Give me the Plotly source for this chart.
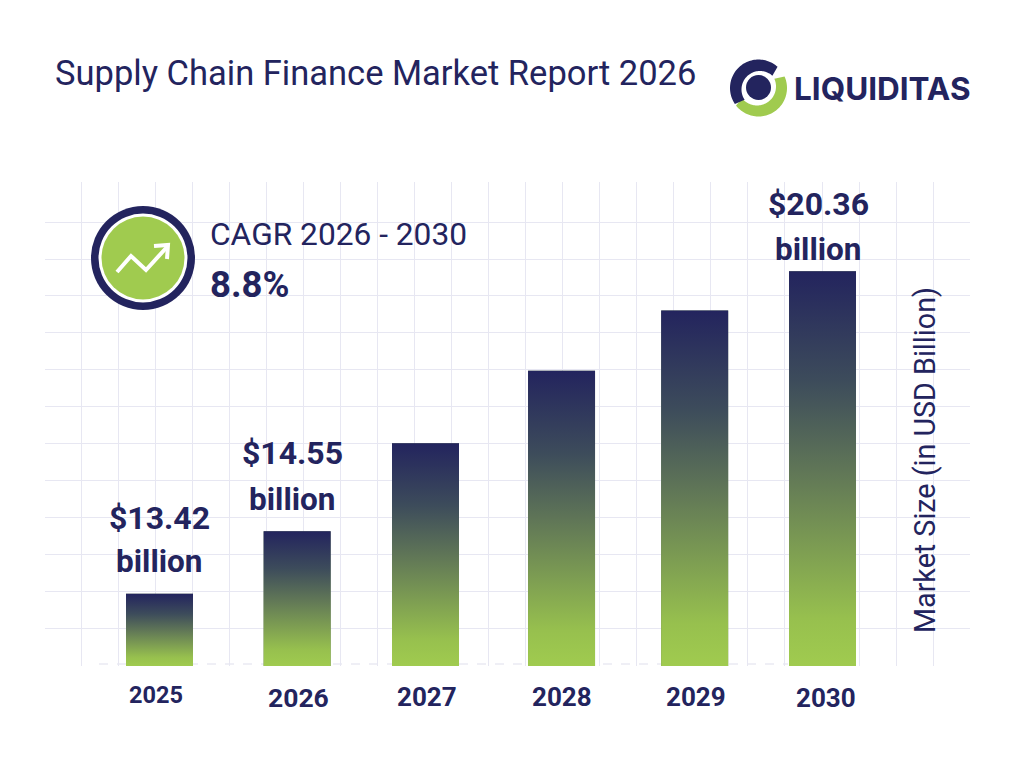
import numpy as np
import plotly.graph_objects as go

# ---- data ----
years = ["2025", "2026", "2027", "2028", "2029", "2030"]
market_size = [13.42, 14.55, 16.3, 17.9, 19.35, 20.36]
value_labels = {"2025": "$13.42", "2026": "$14.55", "2030": "$20.36"}
title_text = "Supply Chain Finance Market Report 2026"
cagr_caption = "CAGR 2026 - 2030"
cagr_value = "8.8%"
axis_title = "Market Size (in USD Billion)"
brand = "LIQUIDITAS"

# ---- layout constants ----
W, H = 1024, 768
NAVY = "#23245e"
GREEN = "#a0cb4f"
GRID = "#e7e7f2"
FONT = "Roboto"
PLOT_L, PLOT_R, PLOT_T, PLOT_B = 45, 970, 182, 666
SLOT_PX = 132.6
FIRST_CENTRE_PX = 159.5
BAR_WIDTH = 67 / SLOT_PX
slot_nudge = [0.0, 0.038, 0.006, 0.032, 0.036, 0.0]
LOG_FLOOR = 1.0872
PX_PER_DECADE = 1782.0
FILL_STOPS = [[0.0, GREEN], [0.12, "#97c04e"], [0.5, "#5f7557"], [0.72, "#3d4c5b"], [1.0, NAVY]]


def px(x):
    return x / W


def py(y):
    return 1 - y / H


def path(points, close=True):
    body = " L ".join(f"{px(x):.5f} {py(y):.5f}" for x, y in points)
    return "M " + body + (" Z" if close else "")


def circle(cx, cy, r, fill):
    return dict(type="circle", xref="paper", yref="paper", layer="above", line_width=0,
                x0=px(cx - r), x1=px(cx + r), y0=py(cy + r), y1=py(cy - r), fillcolor=fill)


def crescent(cx, cy, r_out, r_in, a0, a1, in_dx=0.0, in_dy=0.0):
    angles = np.radians(np.linspace(a0, a1, 60))
    outer = [(cx + r_out * np.cos(a), cy - r_out * np.sin(a)) for a in angles]
    inner = [(cx + in_dx + r_in * np.cos(a), cy + in_dy - r_in * np.sin(a)) for a in angles[::-1]]
    return outer + inner


x_span = (PLOT_R - PLOT_L) / SLOT_PX
x_low = -(FIRST_CENTRE_PX - PLOT_L) / SLOT_PX
y_top = LOG_FLOOR + (PLOT_B - PLOT_T) / PX_PER_DECADE
floor_value = 10 ** LOG_FLOOR
centres = [i + slot_nudge[i] for i in range(len(years))]

fig = go.Figure()

# Background grid lives on the primary axes so it stays underneath the bars.
fig.add_trace(go.Scatter(x=[0], y=[0], mode="none", hoverinfo="skip", showlegend=False,
                         xaxis="x", yaxis="y"))

fig.add_trace(go.Bar(x=centres, y=market_size, width=BAR_WIDTH, marker_color="#5f7557",
                     marker_line_width=0, showlegend=False, xaxis="x2", yaxis="y2",
                     hovertext=years))

# Gradient fill over each bar, spanning its own height.
for c, v in zip(centres, market_size):
    half = BAR_WIDTH / 2
    fig.add_trace(go.Scatter(
        x=[c - half, c - half, c + half, c + half, c - half],
        y=[floor_value, v, v, floor_value, floor_value],
        mode="lines", line_width=0, fill="toself",
        fillgradient=dict(type="vertical", colorscale=FILL_STOPS),
        hoverinfo="skip", showlegend=False, xaxis="x2", yaxis="y2"))

annotations = []


def text(x, y, s, size, bold=False, color=NAVY, angle=0, xanchor="center", family=FONT):
    annotations.append(dict(xref="paper", yref="paper", x=px(x), y=py(y), text=f"<b>{s}</b>" if bold else s,
                            showarrow=False, xanchor=xanchor, yanchor="middle", textangle=angle,
                            font=dict(family=family, size=size, color=color)))


def bar_text(i, s, size, lift, x_shift=0):
    annotations.append(dict(xref="x2", yref="y2", x=centres[i], y=np.log10(market_size[i]),
                            text=f"<b>{s}</b>", showarrow=False, xanchor="center", yanchor="middle",
                            yshift=lift, xshift=x_shift, font=dict(family=FONT, size=size, color=NAVY)))


text(53, 73, title_text, 34.5, xanchor="left")
text(792, 88, brand, 31.5, bold=True, xanchor="left", family="Inter")
text(208, 234, cagr_caption, 31.7, xanchor="left")
text(208, 284, cagr_value, 36.5, bold=True, xanchor="left")
text(925, 460, axis_title, 28.7, angle=-90)

# Value captions sit above their bars.
lifts = {"2025": (76, 32), "2026": (78, 32), "2030": (67, 22)}
nudges = {"2025": 0, "2026": -5, "2030": -4}
for i, year in enumerate(years):
    if year in value_labels:
        top, low = lifts[year]
        bar_text(i, value_labels[year], 32, top, nudges[year])
        bar_text(i, "billion", 31.5, low, nudges[year])

# Year captions under the bars.
year_sizes = [23.5, 26.5, 26, 26, 26, 26]
year_offsets = [(-4, 695), (1, 697), (2, 697), (0, 697), (1, 697), (3, 698)]
for i, year in enumerate(years):
    dx, y_pos = year_offsets[i]
    cx = FIRST_CENTRE_PX + centres[i] * SLOT_PX
    text(cx + dx, y_pos, year, year_sizes[i], bold=True)

shapes = [
    # dashed baseline
    dict(type="line", xref="paper", yref="paper", layer="below", x0=px(99), x1=px(788), y0=py(664), y1=py(664),
         line=dict(color="#dfdfec", width=1, dash="dash")),
    # badge
    circle(143, 258, 52, NAVY),
    circle(143, 258, 44.5, "#ffffff"),
    circle(143, 258, 41.5, GREEN),
    dict(type="path", xref="paper", yref="paper", layer="above",
         path=path([(117, 272), (131, 256), (146, 270), (167, 247)], close=False),
         line=dict(color="#ffffff", width=4)),
    dict(type="path", xref="paper", yref="paper", layer="above",
         path=path([(154, 246), (168, 245), (167, 259)], close=False),
         line=dict(color="#ffffff", width=4)),
    # logo mark
    dict(type="path", xref="paper", yref="paper", layer="above", line_width=0, fillcolor=GREEN,
         path=path(crescent(758.5, 88, 28.5, 19, 24, -142, -1.5, -1.5))),
    dict(type="path", xref="paper", yref="paper", layer="above", line_width=0, fillcolor=NAVY,
         path=path(crescent(758.5, 88, 28.5, 18.5, 48, 214, 1.5, 1.5))),
    circle(758.5, 87.5, 12.5, NAVY),
]

fig.update_layout(
    width=W, height=H, margin=dict(l=0, r=0, t=0, b=0),
    paper_bgcolor="#ffffff", plot_bgcolor="rgba(0,0,0,0)", showlegend=False,
    annotations=annotations, shapes=shapes,
    xaxis=dict(domain=[px(PLOT_L), px(PLOT_R)], range=[0, PLOT_R - PLOT_L], showline=False, zeroline=False,
               showticklabels=False, ticks="", showgrid=True, gridcolor=GRID, gridwidth=1.3,
               tickmode="array", tickvals=[36 + 37.05 * k for k in range(24)]),
    yaxis=dict(domain=[py(PLOT_B), py(PLOT_T)], range=[0, PLOT_B - PLOT_T], showline=False, zeroline=False,
               showticklabels=False, ticks="", showgrid=True, gridcolor=GRID, gridwidth=1.3,
               tickmode="array", tickvals=[38 + 36.9 * k for k in range(12)]),
    xaxis2=dict(domain=[px(PLOT_L), px(PLOT_R)], range=[x_low, x_low + x_span], visible=False),
    yaxis2=dict(domain=[py(PLOT_B), py(PLOT_T)], type="log", range=[LOG_FLOOR, y_top], visible=False,
                anchor="x2"),
)

fig.write_html("out.html")
